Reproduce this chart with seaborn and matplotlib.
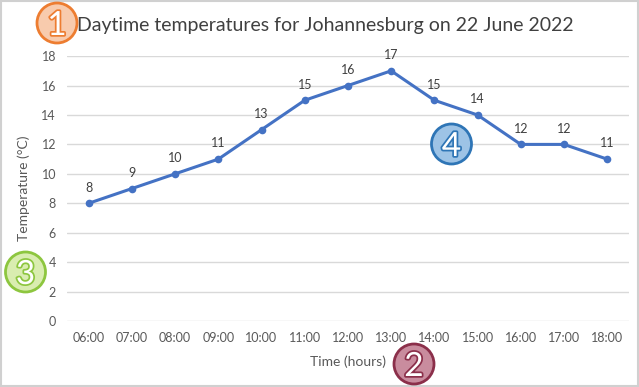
import matplotlib
matplotlib.use("Agg")
import matplotlib.pyplot as plt
import matplotlib.patheffects as pe
from matplotlib.patches import Circle, Rectangle
import seaborn as sns
import pandas as pd

times = ["06:00", "07:00", "08:00", "09:00", "10:00", "11:00", "12:00",
         "13:00", "14:00", "15:00", "16:00", "17:00", "18:00"]
temps = [8, 9, 10, 11, 13, 15, 16, 17, 15, 14, 12, 12, 11]
yticks = [0, 2, 4, 6, 8, 10, 12, 14, 16, 18]

df = pd.DataFrame({"time": times, "temp": temps})

sns.set_theme(style="white")
plt.rcParams['font.family'] = ['Lato', 'DejaVu Sans']

fig = plt.figure(figsize=(6.39, 3.87), dpi=100)
ax = fig.add_axes([0.105, 0.1705, 0.879, 0.6845])

x = list(range(len(times)))
sns.lineplot(x=x, y=df["temp"], ax=ax, color="#4472C4", linewidth=2.2,
             marker="o", markersize=5.5, markeredgewidth=0, zorder=3)

for xi, v in zip(x, temps):
    ax.annotate(str(v), (xi, v), xytext=(0, 7), textcoords="offset points",
                ha="center", va="bottom", fontsize=9, color="#404040")

ax.set_xlim(-0.5, len(times) - 0.5)
ax.set_ylim(0, 18)
ax.set_yticks(yticks)
ax.set_xticks(x)
ax.set_xticklabels(times)
ax.tick_params(axis="both", labelsize=9, colors="#595959", length=0, pad=8)
ax.yaxis.grid(True, color="#D9D9D9", linewidth=1)
ax.xaxis.grid(False)
for s in ax.spines.values():
    s.set_visible(False)
ax.set_xlabel("Time (hours)", fontsize=10, color="#595959", labelpad=8)
ax.set_ylabel("Temperature (°C)", fontsize=10, color="#595959", labelpad=8)

fig.text(0.509, 0.935, "Daytime temperatures for Johannesburg on 22 June 2022",
         ha="center", va="center", fontsize=14, color="#404040")

# figure border
fig.patches.append(Rectangle((0.002, 0.003), 0.996, 0.994, transform=fig.transFigure,
                             fill=False, edgecolor="#D0D0D0", linewidth=1.5))

def badge(px, py, num, face, edge):
    fx, fy = px / 639, 1 - py / 387
    c = Circle((px, 387 - py), 20, transform=None, facecolor=face,
               edgecolor=edge, linewidth=2, zorder=10)
    fig.patches.append(c)
    fig.text(fx, fy, str(num), ha="center", va="center_baseline", fontsize=24,
             color="white", zorder=11,
             path_effects=[pe.withStroke(linewidth=2.5, foreground=edge)])

badge(57, 23, 1, "#F8CBAD", "#ED7D31")
badge(414, 364, 2, "#C98C9E", "#8B2F4A")
badge(25.5, 272, 3, "#D9EDB0", "#8DC63F")
badge(451.5, 144, 4, "#9DC3E6", "#2E75B6")

fig.savefig("out.png", dpi=100)
